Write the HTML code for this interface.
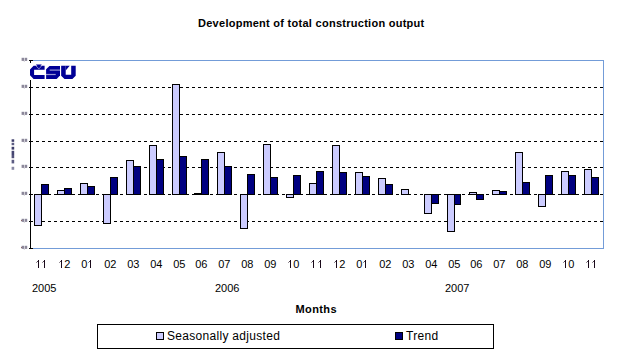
<!DOCTYPE html>
<html><head><meta charset="utf-8"><style>
html,body{margin:0;padding:0;background:#fff;width:625px;height:356px;overflow:hidden;position:relative;font-family:"Liberation Sans",sans-serif;color:#000}
svg{position:absolute;left:0;top:0}
.t{position:absolute;white-space:nowrap;line-height:1}
.title{left:0;width:625px;top:18px;text-align:left;font-weight:bold;font-size:11px;letter-spacing:0.27px}
.ml{position:absolute;top:259px;width:40px;text-align:center;font-size:11px;line-height:11px}
.yr{position:absolute;top:283px;font-size:11px;line-height:11px}
.months{position:absolute;left:295.5px;top:304px;font-weight:bold;font-size:11px;line-height:11px;letter-spacing:0.4px}
.legend{position:absolute;left:97px;top:324px;width:397px;height:25px;box-sizing:border-box;border:1px solid #000}
.sw{position:absolute;width:8px;height:8px;box-sizing:border-box;border:1px solid #000}
.one{color:transparent}
.lt{position:absolute;font-size:12px;line-height:12px;letter-spacing:0.3px}
</style></head><body>
<div class="t title" style="left:198px">Development of total construction output</div>
<svg width="625" height="356" viewBox="0 0 625 356" shape-rendering="crispEdges">
<rect x="30.5" y="60.5" width="573" height="188" fill="none" stroke="#739cd8" stroke-width="1"/>
<line x1="36" y1="87.5" x2="603" y2="87.5" stroke="#000" stroke-width="1" stroke-dasharray="3 3"/>
<line x1="36" y1="114.5" x2="603" y2="114.5" stroke="#000" stroke-width="1" stroke-dasharray="3 3"/>
<line x1="36" y1="141.5" x2="603" y2="141.5" stroke="#000" stroke-width="1" stroke-dasharray="3 3"/>
<line x1="36" y1="167.5" x2="603" y2="167.5" stroke="#000" stroke-width="1" stroke-dasharray="3 3"/>
<line x1="36" y1="194.5" x2="603" y2="194.5" stroke="#000" stroke-width="1" stroke-dasharray="3 3"/>
<line x1="36" y1="221.5" x2="603" y2="221.5" stroke="#000" stroke-width="1" stroke-dasharray="3 3"/>
<rect x="34.5" y="194.5" width="7" height="31" fill="#ccccff" stroke="#000" stroke-width="1"/>
<rect x="41.5" y="184.5" width="7" height="10" fill="#000080" stroke="#000" stroke-width="1"/>
<rect x="57.5" y="190.5" width="7" height="4" fill="#ccccff" stroke="#000" stroke-width="1"/>
<rect x="64.5" y="188.5" width="7" height="6" fill="#000080" stroke="#000" stroke-width="1"/>
<rect x="80.5" y="183.5" width="7" height="11" fill="#ccccff" stroke="#000" stroke-width="1"/>
<rect x="87.5" y="186.5" width="7" height="8" fill="#000080" stroke="#000" stroke-width="1"/>
<rect x="103.5" y="194.5" width="7" height="29" fill="#ccccff" stroke="#000" stroke-width="1"/>
<rect x="110.5" y="177.5" width="7" height="17" fill="#000080" stroke="#000" stroke-width="1"/>
<rect x="126.5" y="160.5" width="7" height="34" fill="#ccccff" stroke="#000" stroke-width="1"/>
<rect x="133.5" y="166.5" width="7" height="28" fill="#000080" stroke="#000" stroke-width="1"/>
<rect x="149.5" y="145.5" width="7" height="49" fill="#ccccff" stroke="#000" stroke-width="1"/>
<rect x="156.5" y="159.5" width="7" height="35" fill="#000080" stroke="#000" stroke-width="1"/>
<rect x="172.5" y="84.5" width="7" height="110" fill="#ccccff" stroke="#000" stroke-width="1"/>
<rect x="179.5" y="156.5" width="7" height="38" fill="#000080" stroke="#000" stroke-width="1"/>
<rect x="194.5" y="193.5" width="7" height="1" fill="#ccccff" stroke="#000" stroke-width="1"/>
<rect x="201.5" y="159.5" width="7" height="35" fill="#000080" stroke="#000" stroke-width="1"/>
<rect x="217.5" y="152.5" width="7" height="42" fill="#ccccff" stroke="#000" stroke-width="1"/>
<rect x="224.5" y="166.5" width="7" height="28" fill="#000080" stroke="#000" stroke-width="1"/>
<rect x="240.5" y="194.5" width="7" height="34" fill="#ccccff" stroke="#000" stroke-width="1"/>
<rect x="247.5" y="174.5" width="7" height="20" fill="#000080" stroke="#000" stroke-width="1"/>
<rect x="263.5" y="144.5" width="7" height="50" fill="#ccccff" stroke="#000" stroke-width="1"/>
<rect x="270.5" y="177.5" width="7" height="17" fill="#000080" stroke="#000" stroke-width="1"/>
<rect x="286.5" y="194.5" width="7" height="3" fill="#ccccff" stroke="#000" stroke-width="1"/>
<rect x="293.5" y="175.5" width="7" height="19" fill="#000080" stroke="#000" stroke-width="1"/>
<rect x="309.5" y="183.5" width="7" height="11" fill="#ccccff" stroke="#000" stroke-width="1"/>
<rect x="316.5" y="171.5" width="7" height="23" fill="#000080" stroke="#000" stroke-width="1"/>
<rect x="332.5" y="145.5" width="7" height="49" fill="#ccccff" stroke="#000" stroke-width="1"/>
<rect x="339.5" y="172.5" width="7" height="22" fill="#000080" stroke="#000" stroke-width="1"/>
<rect x="355.5" y="172.5" width="7" height="22" fill="#ccccff" stroke="#000" stroke-width="1"/>
<rect x="362.5" y="176.5" width="7" height="18" fill="#000080" stroke="#000" stroke-width="1"/>
<rect x="378.5" y="178.5" width="7" height="16" fill="#ccccff" stroke="#000" stroke-width="1"/>
<rect x="385.5" y="184.5" width="7" height="10" fill="#000080" stroke="#000" stroke-width="1"/>
<rect x="401.5" y="189.5" width="7" height="5" fill="#ccccff" stroke="#000" stroke-width="1"/>
<rect x="424.5" y="194.5" width="7" height="19" fill="#ccccff" stroke="#000" stroke-width="1"/>
<rect x="431.5" y="194.5" width="7" height="9" fill="#000080" stroke="#000" stroke-width="1"/>
<rect x="447.5" y="194.5" width="7" height="37" fill="#ccccff" stroke="#000" stroke-width="1"/>
<rect x="454.5" y="194.5" width="6" height="10" fill="#000080" stroke="#000" stroke-width="1"/>
<rect x="469.5" y="192.5" width="7" height="2" fill="#ccccff" stroke="#000" stroke-width="1"/>
<rect x="476.5" y="194.5" width="7" height="5" fill="#000080" stroke="#000" stroke-width="1"/>
<rect x="492.5" y="190.5" width="7" height="4" fill="#ccccff" stroke="#000" stroke-width="1"/>
<rect x="499.5" y="191.5" width="7" height="3" fill="#000080" stroke="#000" stroke-width="1"/>
<rect x="515.5" y="152.5" width="7" height="42" fill="#ccccff" stroke="#000" stroke-width="1"/>
<rect x="522.5" y="182.5" width="7" height="12" fill="#000080" stroke="#000" stroke-width="1"/>
<rect x="538.5" y="194.5" width="7" height="12" fill="#ccccff" stroke="#000" stroke-width="1"/>
<rect x="545.5" y="175.5" width="7" height="19" fill="#000080" stroke="#000" stroke-width="1"/>
<rect x="561.5" y="171.5" width="7" height="23" fill="#ccccff" stroke="#000" stroke-width="1"/>
<rect x="568.5" y="175.5" width="7" height="19" fill="#000080" stroke="#000" stroke-width="1"/>
<rect x="584.5" y="169.5" width="7" height="25" fill="#ccccff" stroke="#000" stroke-width="1"/>
<rect x="591.5" y="177.5" width="7" height="17" fill="#000080" stroke="#000" stroke-width="1"/>
<line x1="30.5" y1="60" x2="30.5" y2="249" stroke="#000" stroke-width="1"/>
<line x1="29" y1="60.5" x2="33" y2="60.5" stroke="#000" stroke-width="1"/>
<line x1="29" y1="87.5" x2="33" y2="87.5" stroke="#000" stroke-width="1"/>
<line x1="29" y1="114.5" x2="33" y2="114.5" stroke="#000" stroke-width="1"/>
<line x1="29" y1="141.5" x2="33" y2="141.5" stroke="#000" stroke-width="1"/>
<line x1="29" y1="167.5" x2="33" y2="167.5" stroke="#000" stroke-width="1"/>
<line x1="29" y1="194.5" x2="33" y2="194.5" stroke="#000" stroke-width="1"/>
<line x1="29" y1="221.5" x2="33" y2="221.5" stroke="#000" stroke-width="1"/>
<line x1="29" y1="248.5" x2="33" y2="248.5" stroke="#000" stroke-width="1"/>
<rect x="28" y="63" width="50" height="17" fill="#fff"/>
<g fill="#000096" shape-rendering="geometricPrecision">
<path d="M33.6 65.8 H44.6 V69.8 H34.1 V75.1 H44.6 V79 H33.6 L30 75.3 V69.4 Z"/>
<path d="M35.6 65.7 L38.85 69.3 L42.1 65.7 H41.3 L38.85 68.4 L36.4 65.7 Z" fill="#fff" opacity="0.7"/>
<rect x="36" y="64.1" width="5.6" height="0.8" opacity="0.45"/><path d="M36.3 64.8 H41.4 L38.85 67.7 Z"/>
<path d="M49.5 65.9 H60 V75.5 L56.65 79 H46.1 V69.25 Z"/>
<rect x="49.7" y="69.5" width="10.5" height="1.2" fill="#fff" opacity="0.6"/>
<rect x="45.9" y="73.9" width="9.8" height="1.2" fill="#fff" opacity="0.6"/>
<path d="M61.15 65.8 H65.7 V74.7 H71.2 V65.8 H75.7 V75.7 L72.4 78.9 H64.5 L61.15 75.7 Z"/>
<path d="M65.7 65.8 H69.7 L65.7 70.4 Z"/>
</g>
<g fill="#30284a" opacity="0.55" shape-rendering="geometricPrecision"><rect x="21.6" y="57.8" width="2.4" height="3.1"/><rect x="24.6" y="57.8" width="2.6" height="3.1"/><rect x="23.8" y="60.8" width="1" height="0.8" opacity="0.6"/></g>
<g fill="#30284a" opacity="0.55" shape-rendering="geometricPrecision"><rect x="21.6" y="84.8" width="2.4" height="3.1"/><rect x="24.6" y="84.8" width="2.6" height="3.1"/><rect x="23.8" y="87.8" width="1" height="0.8" opacity="0.6"/></g>
<g fill="#30284a" opacity="0.55" shape-rendering="geometricPrecision"><rect x="21.6" y="111.8" width="2.4" height="3.1"/><rect x="24.6" y="111.8" width="2.6" height="3.1"/><rect x="23.8" y="114.8" width="1" height="0.8" opacity="0.6"/></g>
<g fill="#30284a" opacity="0.55" shape-rendering="geometricPrecision"><rect x="21.6" y="138.8" width="2.4" height="3.1"/><rect x="24.6" y="138.8" width="2.6" height="3.1"/><rect x="23.8" y="141.8" width="1" height="0.8" opacity="0.6"/></g>
<g fill="#30284a" opacity="0.55" shape-rendering="geometricPrecision"><rect x="21.6" y="164.8" width="2.4" height="3.1"/><rect x="24.6" y="164.8" width="2.6" height="3.1"/><rect x="23.8" y="167.8" width="1" height="0.8" opacity="0.6"/></g>
<g fill="#30284a" opacity="0.55" shape-rendering="geometricPrecision"><rect x="21.6" y="191.8" width="2.4" height="3.1"/><rect x="24.6" y="191.8" width="2.6" height="3.1"/><rect x="23.8" y="194.8" width="1" height="0.8" opacity="0.6"/></g>
<g fill="#30284a" opacity="0.55" shape-rendering="geometricPrecision"><rect x="21.6" y="218.8" width="2.4" height="3.1"/><rect x="24.6" y="218.8" width="2.6" height="3.1"/><rect x="23.8" y="221.8" width="1" height="0.8" opacity="0.6"/></g>
<rect x="20.8" y="220.0" width="1" height="0.8" fill="#602020" opacity="0.6"/>
<g fill="#30284a" opacity="0.55" shape-rendering="geometricPrecision"><rect x="21.6" y="245.8" width="2.4" height="3.1"/><rect x="24.6" y="245.8" width="2.6" height="3.1"/><rect x="23.8" y="248.8" width="1" height="0.8" opacity="0.6"/></g>
<rect x="20.8" y="247.0" width="1" height="0.8" fill="#602020" opacity="0.6"/>
<rect x="11.6" y="139.3" width="2.6" height="2.5" fill="#1a1a50" opacity="0.85" shape-rendering="geometricPrecision"/>
<rect x="11.6" y="142.8" width="2.6" height="2.3999999999999773" fill="#1a1a50" opacity="0.71" shape-rendering="geometricPrecision"/>
<rect x="11.6" y="146.8" width="2.6" height="2.799999999999983" fill="#1a1a50" opacity="0.85" shape-rendering="geometricPrecision"/>
<rect x="11.6" y="150.8" width="2.6" height="4.199999999999989" fill="#1a1a50" opacity="0.81" shape-rendering="geometricPrecision"/>
<rect x="11.6" y="155" width="2.6" height="3.1999999999999886" fill="#1a1a50" opacity="0.76" shape-rendering="geometricPrecision"/>
<rect x="11.6" y="159.8" width="2.6" height="3.5999999999999943" fill="#1a1a50" opacity="0.71" shape-rendering="geometricPrecision"/>
<rect x="11.6" y="166.8" width="2.6" height="3.0" fill="#1a1a50" opacity="0.52" shape-rendering="geometricPrecision"/>
<rect x="38" y="260" width="1" height="8" fill="#1a0a1a"/><rect x="37" y="261" width="1" height="1" fill="#1a0a1a" opacity="0.75"/><rect x="36" y="262" width="1" height="1" fill="#1a0a1a" opacity="0.45"/>
<rect x="44" y="260" width="1" height="8" fill="#1a0a1a"/><rect x="43" y="261" width="1" height="1" fill="#1a0a1a" opacity="0.75"/><rect x="42" y="262" width="1" height="1" fill="#1a0a1a" opacity="0.45"/>
<rect x="61" y="260" width="1" height="8" fill="#1a0a1a"/><rect x="60" y="261" width="1" height="1" fill="#1a0a1a" opacity="0.75"/><rect x="59" y="262" width="1" height="1" fill="#1a0a1a" opacity="0.45"/>
<rect x="90" y="260" width="1" height="8" fill="#1a0a1a"/><rect x="89" y="261" width="1" height="1" fill="#1a0a1a" opacity="0.75"/><rect x="88" y="262" width="1" height="1" fill="#1a0a1a" opacity="0.45"/>
<rect x="290" y="260" width="1" height="8" fill="#1a0a1a"/><rect x="289" y="261" width="1" height="1" fill="#1a0a1a" opacity="0.75"/><rect x="288" y="262" width="1" height="1" fill="#1a0a1a" opacity="0.45"/>
<rect x="313" y="260" width="1" height="8" fill="#1a0a1a"/><rect x="312" y="261" width="1" height="1" fill="#1a0a1a" opacity="0.75"/><rect x="311" y="262" width="1" height="1" fill="#1a0a1a" opacity="0.45"/>
<rect x="320" y="260" width="1" height="8" fill="#1a0a1a"/><rect x="319" y="261" width="1" height="1" fill="#1a0a1a" opacity="0.75"/><rect x="318" y="262" width="1" height="1" fill="#1a0a1a" opacity="0.45"/>
<rect x="336" y="260" width="1" height="8" fill="#1a0a1a"/><rect x="335" y="261" width="1" height="1" fill="#1a0a1a" opacity="0.75"/><rect x="334" y="262" width="1" height="1" fill="#1a0a1a" opacity="0.45"/>
<rect x="365" y="260" width="1" height="8" fill="#1a0a1a"/><rect x="364" y="261" width="1" height="1" fill="#1a0a1a" opacity="0.75"/><rect x="363" y="262" width="1" height="1" fill="#1a0a1a" opacity="0.45"/>
<rect x="565" y="260" width="1" height="8" fill="#1a0a1a"/><rect x="564" y="261" width="1" height="1" fill="#1a0a1a" opacity="0.75"/><rect x="563" y="262" width="1" height="1" fill="#1a0a1a" opacity="0.45"/>
<rect x="588" y="260" width="1" height="8" fill="#1a0a1a"/><rect x="587" y="261" width="1" height="1" fill="#1a0a1a" opacity="0.75"/><rect x="586" y="262" width="1" height="1" fill="#1a0a1a" opacity="0.45"/>
<rect x="594" y="260" width="1" height="8" fill="#1a0a1a"/><rect x="593" y="261" width="1" height="1" fill="#1a0a1a" opacity="0.75"/><rect x="592" y="262" width="1" height="1" fill="#1a0a1a" opacity="0.45"/>
</svg>
<div class="ml" style="left:21.3px"><span class="one">1</span><span class="one">1</span></div>
<div class="ml" style="left:44.3px"><span class="one">1</span>2</div>
<div class="ml" style="left:67.3px">0<span class="one">1</span></div>
<div class="ml" style="left:90.3px">02</div>
<div class="ml" style="left:113.3px">03</div>
<div class="ml" style="left:136.3px">04</div>
<div class="ml" style="left:159.3px">05</div>
<div class="ml" style="left:181.3px">06</div>
<div class="ml" style="left:204.3px">07</div>
<div class="ml" style="left:227.3px">08</div>
<div class="ml" style="left:250.3px">09</div>
<div class="ml" style="left:273.3px"><span class="one">1</span>0</div>
<div class="ml" style="left:296.3px"><span class="one">1</span><span class="one">1</span></div>
<div class="ml" style="left:319.3px"><span class="one">1</span>2</div>
<div class="ml" style="left:342.3px">0<span class="one">1</span></div>
<div class="ml" style="left:365.3px">02</div>
<div class="ml" style="left:388.3px">03</div>
<div class="ml" style="left:411.3px">04</div>
<div class="ml" style="left:434.3px">05</div>
<div class="ml" style="left:456.3px">06</div>
<div class="ml" style="left:479.3px">07</div>
<div class="ml" style="left:502.3px">08</div>
<div class="ml" style="left:525.3px">09</div>
<div class="ml" style="left:548.3px"><span class="one">1</span>0</div>
<div class="ml" style="left:571.3px"><span class="one">1</span><span class="one">1</span></div>
<div class="yr" style="left:32px">2005</div>
<div class="yr" style="left:215px">2006</div>
<div class="yr" style="left:445px">2007</div>
<div class="months">Months</div>
<div class="legend"></div>
<div class="sw" style="left:156px;top:332px;background:#ccccff"></div>
<div class="lt" style="left:167px;top:330px">Seasonally adjusted</div>
<div class="sw" style="left:395px;top:332px;background:#000080"></div>
<div class="lt" style="left:406px;top:330px">Trend</div>
</body></html>
